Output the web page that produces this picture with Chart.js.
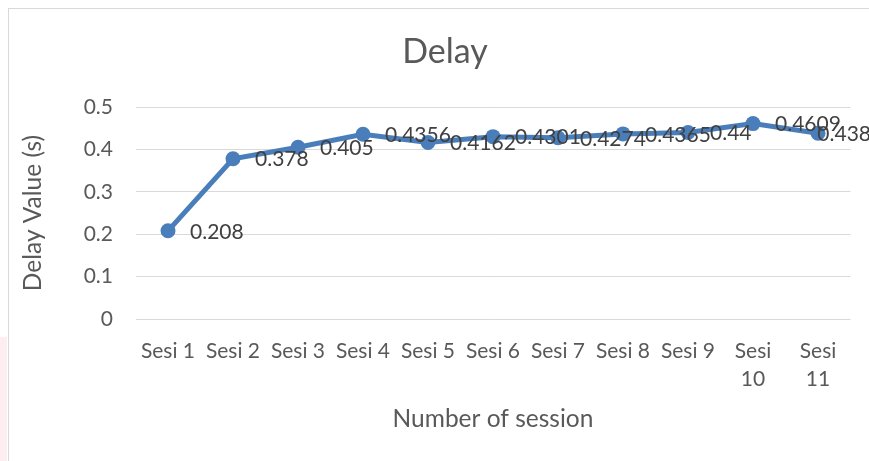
<!DOCTYPE html>
<html lang="id">
<head>
    <meta charset="UTF-8">
    <title>Delay</title>
    <script src="https://cdn.jsdelivr.net/npm/chart.js"></script>
    <style>
        html, body {
            margin: 0;
            padding: 0;
            background: #fff;
            overflow: hidden;
        }
        .frame {
            position: absolute;
            left: 8px;
            top: 8px;
            width: 900px;
            height: 500px;
            border: 1px solid #d9d9d9;
        }
        .strip {
            position: absolute;
            left: 0;
            top: 337px;
            width: 7px;
            height: 130px;
            background: #fdeef0;
        }
        #delayChart {
            position: absolute;
            left: 0;
            top: 0;
        }
    </style>
</head>
<body>
    <div class="strip"></div>
    <div class="frame"></div>
    <canvas id="delayChart" width="869" height="461"></canvas>

    <script>
        // data
        var sessions = ['Sesi 1', 'Sesi 2', 'Sesi 3', 'Sesi 4', 'Sesi 5', 'Sesi 6',
                        'Sesi 7', 'Sesi 8', 'Sesi 9', ['Sesi', '10'], ['Sesi', '11']];
        var delayValues = [0.208, 0.378, 0.405, 0.4356, 0.4162, 0.4301,
                           0.4274, 0.4365, 0.44, 0.4609, 0.438];
        var yTicks = [0, 0.1, 0.2, 0.3, 0.4, 0.5];

        var FONT = 'Lato, "Open Sans", sans-serif';

        // value labels to the right of each point (like Excel)
        var valueLabels = {
            id: 'valueLabels',
            afterDatasetsDraw: function (chart) {
                var ctx = chart.ctx;
                var meta = chart.getDatasetMeta(0);
                ctx.save();
                ctx.font = '21px ' + FONT;
                ctx.fillStyle = '#404040';
                ctx.textBaseline = 'middle';
                ctx.textAlign = 'left';
                meta.data.forEach(function (pt, i) {
                    var txt = String(delayValues[i]);
                    var w = ctx.measureText(txt).width;
                    var tx = pt.x + 22;
                    if (tx + w > 871) tx = 871 - w;
                    ctx.fillText(txt, tx, pt.y + 1);
                });
                ctx.restore();
            }
        };

        var ctx = document.getElementById('delayChart').getContext('2d');
        var delayChart = new Chart(ctx, {
            type: 'line',
            data: {
                labels: sessions,
                datasets: [{
                    label: 'Delay',
                    data: delayValues,
                    borderColor: '#4a7ebb',
                    backgroundColor: '#4a7ebb',
                    borderWidth: 5,
                    pointRadius: 7.5,
                    pointBorderWidth: 0,
                    pointBackgroundColor: '#4a7ebb',
                    tension: 0
                }]
            },
            options: {
                responsive: false,
                animation: false,
                layout: {
                    padding: { left: 39.5, right: 18.5, top: 0, bottom: 0 }
                },
                plugins: {
                    legend: { display: false },
                    tooltip: { enabled: false },
                    title: {
                        display: true,
                        text: 'Delay',
                        color: '#595959',
                        font: { family: FONT, size: 34, weight: 'normal', lineHeight: 1.2 },
                        padding: { top: 31.6, bottom: 34.6 }
                    }
                },
                scales: {
                    x: {
                        offset: true,
                        grid: { display: false, drawTicks: false },
                        border: { display: false },
                        ticks: {
                            color: '#595959',
                            font: { family: FONT, size: 21, lineHeight: 1.333 },
                            padding: 18,
                            maxRotation: 0,
                            autoSkip: false
                        },
                        title: {
                            display: true,
                            text: 'Number of session',
                            color: '#595959',
                            font: { family: FONT, size: 24.5, lineHeight: 1.2 },
                            padding: { top: 0, bottom: 27.3 }
                        },
                        afterFit: function (scale) { scale.height = 142; }
                    },
                    y: {
                        min: 0,
                        max: 0.5,
                        afterBuildTicks: function (scale) {
                            scale.ticks = yTicks.map(function (v) { return { value: v }; });
                        },
                        grid: { color: '#d9d9d9', lineWidth: 1, drawTicks: false },
                        border: { display: false },
                        ticks: {
                            color: '#595959',
                            font: { family: FONT, size: 21 },
                            padding: 22.5
                        },
                        title: {
                            display: true,
                            text: 'Delay Value (s)',
                            color: '#595959',
                            font: { family: FONT, size: 24.5, lineHeight: 1.2 },
                            padding: { top: -21.2, bottom: 0 }
                        },
                        afterFit: function (scale) { scale.width = 96; }
                    }
                }
            },
            plugins: [valueLabels]
        });
    </script>
</body>
</html>
